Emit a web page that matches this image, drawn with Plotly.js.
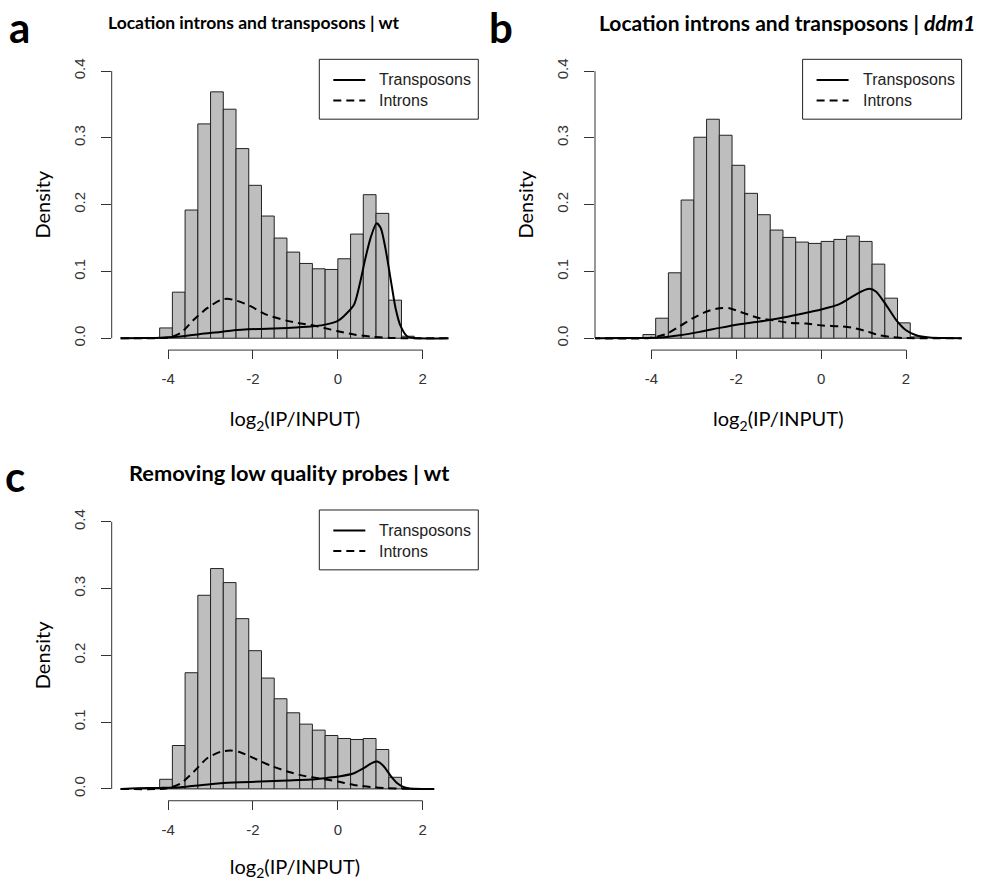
<!DOCTYPE html>
<html><head><meta charset="utf-8">
<script src="https://cdn.plot.ly/plotly-3.0.1.min.js"></script>
<style>html,body{margin:0;padding:0;background:#fff}#chart{width:987px;height:881px}</style>
</head><body><div id="chart"></div>
<script>
// ---- text ----
const panelLetters = ['a', 'b', 'c'];
const panelTitles = ['Location introns and transposons | wt',
                     'Location introns and transposons | <i>ddm1</i>',
                     'Removing low quality probes | wt'];
const seriesNames = ['Transposons', 'Introns'];
const xAxisTitle = 'log<sub>2</sub>(IP/INPUT)';
const yAxisTitle = 'Density';
const xTickVals = [-4, -2, 0, 2];
const xTickText = ['-4', '-2', '0', '2'];
const yTickVals = [0, 0.1, 0.2, 0.3, 0.4];
const yTickText = ['0.0', '0.1', '0.2', '0.3', '0.4'];
const binWidth = 0.3;

// ---- panel a (wt) ----
const binMidsA = [-4.65, -4.35, -4.05, -3.75, -3.45, -3.15, -2.85, -2.55, -2.25, -1.95, -1.65, -1.35, -1.05, -0.75, -0.45, -0.15, 0.15, 0.45, 0.75, 1.05, 1.35, 1.65];
const densA = [0.0005, 0.001, 0.0154, 0.069, 0.192, 0.321, 0.369, 0.343, 0.284, 0.229, 0.183, 0.150, 0.129, 0.112, 0.104, 0.103, 0.119, 0.156, 0.215, 0.187, 0.057, 0.003];
const transXA = [-5.12, -4.5, -4.18, -3.7, -3.24, -2.77, -2.45, -1.82, -1.19, -0.64, -0.33, 0, 0.14, 0.38, 0.53, 0.65, 0.77, 0.91, 1.01, 1.12, 1.24, 1.36, 1.48, 1.63, 1.8, 2.61];
const transYA = [0, 0.0003, 0.0008, 0.0025, 0.0065, 0.0095, 0.012, 0.014, 0.0155, 0.0175, 0.020, 0.026, 0.033, 0.050, 0.085, 0.120, 0.150, 0.172, 0.165, 0.135, 0.090, 0.045, 0.018, 0.003, 0.0003, 0];
const intronXA = [-5.12, -4.18, -3.94, -3.7, -3.39, -3.08, -2.77, -2.61, -2.37, -2.06, -1.67, -1.19, -0.88, -0.57, -0.33, 0, 0.38, 0.77, 1.24, 1.63, 2.61];
const intronYA = [0, 0.0003, 0.0015, 0.008, 0.028, 0.045, 0.057, 0.059, 0.056, 0.048, 0.035, 0.026, 0.022, 0.019, 0.0155, 0.0105, 0.0055, 0.0025, 0.0005, 0, 0];

// ---- panel b (ddm1) ----
const binMidsB = [-4.95, -4.65, -4.35, -4.05, -3.75, -3.45, -3.15, -2.85, -2.55, -2.25, -1.95, -1.65, -1.35, -1.05, -0.75, -0.45, -0.15, 0.15, 0.45, 0.75, 1.05, 1.35, 1.65, 1.95, 2.25];
const densB = [0.0005, 0.001, 0.001, 0.0055, 0.030, 0.098, 0.207, 0.301, 0.328, 0.304, 0.259, 0.217, 0.185, 0.162, 0.151, 0.144, 0.142, 0.145, 0.148, 0.153, 0.145, 0.111, 0.060, 0.023, 0.002];
const transXB = [-5.4, -4.27, -3.8, -3.33, -2.86, -2.39, -1.92, -1.45, -0.98, -0.51, 0, 0.43, 0.75, 0.98, 1.14, 1.29, 1.53, 1.76, 2.0, 2.24, 2.55, 3.0, 3.4];
const transYB = [0, 0.0002, 0.001, 0.0045, 0.0095, 0.0155, 0.021, 0.025, 0.030, 0.036, 0.043, 0.051, 0.063, 0.071, 0.074, 0.070, 0.050, 0.028, 0.012, 0.0045, 0.001, 0.0002, 0];
const intronXB = [-5.4, -4.04, -3.65, -3.33, -3.02, -2.7, -2.39, -2.16, -1.84, -1.45, -1.14, -0.75, -0.35, 0.04, 0.43, 0.75, 1.06, 1.37, 1.69, 2.0, 3.4];
const intronYB = [0, 0.0005, 0.0065, 0.018, 0.030, 0.040, 0.045, 0.045, 0.038, 0.030, 0.027, 0.023, 0.022, 0.019, 0.018, 0.0155, 0.0105, 0.0045, 0.0015, 0.0002, 0];

// ---- panel c (wt, filtered) ----
const binMidsC = [-4.65, -4.35, -4.05, -3.75, -3.45, -3.15, -2.85, -2.55, -2.25, -1.95, -1.65, -1.35, -1.05, -0.75, -0.45, -0.15, 0.15, 0.45, 0.75, 1.05, 1.35, 1.65];
const densC = [0.0005, 0.001, 0.0144, 0.065, 0.174, 0.290, 0.330, 0.309, 0.255, 0.207, 0.166, 0.135, 0.114, 0.097, 0.088, 0.080, 0.0755, 0.074, 0.0755, 0.059, 0.0174, 0.001];
const transXC = [-5.12, -4.73, -4.18, -3.7, -3.24, -2.77, -2.29, -1.82, -1.19, -0.64, -0.25, 0.06, 0.38, 0.61, 0.81, 0.93, 1.08, 1.24, 1.4, 1.56, 1.71, 2.27];
const transYC = [0, 0.001, 0.0015, 0.0025, 0.0055, 0.0085, 0.010, 0.011, 0.0125, 0.014, 0.0165, 0.019, 0.0235, 0.031, 0.039, 0.041, 0.034, 0.020, 0.0085, 0.0025, 0.0003, 0];
const intronXC = [-5.12, -4.02, -3.7, -3.39, -3.08, -2.77, -2.53, -2.29, -1.98, -1.59, -1.19, -0.8, -0.41, 0, 0.38, 0.77, 1.16, 1.56, 2.27];
const intronYC = [0, 0.001, 0.0085, 0.026, 0.046, 0.0555, 0.0575, 0.0545, 0.046, 0.035, 0.026, 0.0195, 0.0155, 0.011, 0.006, 0.003, 0.001, 0.0002, 0];

// ---- layout geometry (pixels) ----
const W = 987, H = 881;
const PW = 366.6, PH = 289.1;
const xRange = [-5.33, 3.31];
const yRange = [-0.016, 0.416];
const panels = [
  {L: 111.7, T: 58.6, mids: binMidsA, dens: densA, tx: transXA, ty: transYA, ix: intronXA, iy: intronYA,
   title: {cx: 254.5, cy: 21, size: 17.5}, letter: {x: 19, y: 25.5}},
  {L: 595, T: 58.6, mids: binMidsB, dens: densB, tx: transXB, ty: transYB, ix: intronXB, iy: intronYB,
   title: {cx: 787.5, cy: 21, size: 21}, letter: {x: 501, y: 25.5}},
  {L: 111.7, T: 510.3, mids: binMidsC, dens: densC, tx: transXC, ty: transYC, ix: intronXC, iy: intronYC,
   title: {cx: 289, cy: 472, size: 21.8}, letter: {x: 15, y: 475}}
];

const TICKC = '#333';
const traces = [], shapes = [], annotations = [];
const layout = {
  width: W, height: H, margin: {l: 0, r: 0, t: 0, b: 0, pad: 0},
  paper_bgcolor: '#fff', plot_bgcolor: '#fff', showlegend: false,
  font: {family: 'Liberation Sans, Arial, sans-serif', color: '#222'},
  bargap: 0
};

panels.forEach((p, i) => {
  const n = i === 0 ? '' : String(i + 1);
  const xa = 'x' + n, ya = 'y' + n;
  traces.push({type: 'bar', x: p.mids, y: p.dens, width: binWidth, xaxis: xa, yaxis: ya,
    marker: {color: '#bebebe', line: {color: '#222', width: 1}}, hoverinfo: 'x+y', showlegend: false});
  traces.push({type: 'scatter', mode: 'lines', x: p.tx, y: p.ty, xaxis: xa, yaxis: ya, name: seriesNames[0],
    line: {color: '#000', width: 2, shape: 'spline', smoothing: 0.7}, showlegend: false});
  traces.push({type: 'scatter', mode: 'lines', x: p.ix, y: p.iy, xaxis: xa, yaxis: ya, name: seriesNames[1],
    line: {color: '#000', width: 2, dash: '8px,5px', shape: 'spline', smoothing: 0.7}, showlegend: false});

  layout['xaxis' + n] = {
    domain: [p.L / W, (p.L + PW) / W], anchor: ya, range: xRange,
    tickmode: 'array', tickvals: xTickVals, ticktext: xTickText,
    ticks: 'outside', ticklen: 9, tickwidth: 1, tickcolor: TICKC, ticklabelstandoff: 7,
    showline: false, showgrid: false, zeroline: false, fixedrange: true,
    tickfont: {family: 'Liberation Sans, Arial, sans-serif', size: 15, color: TICKC},
    automargin: true,
    title: {text: xAxisTitle, standoff: 26, font: {family: 'Lato, sans-serif', size: 20, color: '#000'}}
  };
  layout['yaxis' + n] = {
    domain: [1 - (p.T + PH) / H, 1 - p.T / H], anchor: xa, range: yRange,
    tickmode: 'array', tickvals: yTickVals, ticktext: yTickText, tickangle: -90,
    ticks: 'outside', ticklen: 10, tickwidth: 1, tickcolor: TICKC, ticklabelstandoff: 10,
    showline: false, showgrid: false, zeroline: false, fixedrange: true,
    tickfont: {family: 'Liberation Sans, Arial, sans-serif', size: 15, color: TICKC},
    automargin: true,
    title: {text: yAxisTitle, standoff: 14, font: {family: 'Lato, sans-serif', size: 20, color: '#000'}}
  };

  const xd = v => (v - xRange[0]) / (xRange[1] - xRange[0]);
  const yd = v => (v - yRange[0]) / (yRange[1] - yRange[0]);
  // R-style detached axis lines spanning first..last tick
  shapes.push({type: 'line', xref: xa + ' domain', yref: ya + ' domain',
    x0: xd(xTickVals[0]), x1: xd(xTickVals[xTickVals.length - 1]), y0: -0.004, y1: -0.004,
    line: {color: TICKC, width: 1}});
  shapes.push({type: 'line', xref: xa + ' domain', yref: ya + ' domain',
    x0: 0, x1: 0, y0: yd(yTickVals[0]), y1: yd(yTickVals[yTickVals.length - 1]),
    line: {color: TICKC, width: 1}});
  // legend box (top right of plot region)
  const lgW = 159 / PW, lgH = 60 / PH;
  shapes.push({type: 'rect', xref: xa + ' domain', yref: ya + ' domain',
    x0: 1 - lgW, x1: 1, y0: 1.004 - lgH, y1: 1.004, line: {color: '#222', width: 1}, fillcolor: '#fff'});
  const rowY = [(PH - 19.5) / PH, (PH - 40) / PH];
  const sx0 = 1 - lgW + 14 / PW, sx1 = 1 - lgW + 46 / PW, tx0 = 1 - lgW + 58 / PW;
  [0, 1].forEach(k => {
    shapes.push({type: 'line', xref: xa + ' domain', yref: ya + ' domain',
      x0: sx0, x1: sx1, y0: rowY[k], y1: rowY[k],
      line: {color: '#000', width: 2, dash: k === 1 ? '8px,5px' : 'solid'}});
    annotations.push({xref: xa + ' domain', yref: ya + ' domain', x: tx0, y: rowY[k],
      xanchor: 'left', yanchor: 'middle', showarrow: false, text: seriesNames[k],
      font: {family: 'Liberation Sans, Arial, sans-serif', size: 16, color: '#222'}});
  });
  // panel title and letter
  annotations.push({xref: 'paper', yref: 'paper', x: p.title.cx / W, y: 1 - p.title.cy / H,
    xanchor: 'center', yanchor: 'middle', showarrow: false, text: '<b>' + panelTitles[i] + '</b>',
    font: {family: 'Lato, sans-serif', size: p.title.size, color: '#000'}});
  annotations.push({xref: 'paper', yref: 'paper', x: p.letter.x / W, y: 1 - p.letter.y / H,
    xanchor: 'center', yanchor: 'middle', showarrow: false, text: '<b>' + panelLetters[i] + '</b>',
    font: {family: 'Lato, sans-serif', size: 42, color: '#000'}});
});
layout.shapes = shapes;
layout.annotations = annotations;

Plotly.newPlot('chart', traces, layout, {staticPlot: true, displayModeBar: false});
</script></body></html>
